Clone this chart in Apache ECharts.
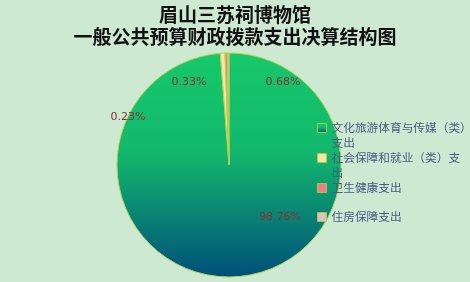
<!DOCTYPE html>
<html><head><meta charset="utf-8">
<script src="https://cdn.jsdelivr.net/npm/echarts@6/dist/echarts.min.js"></script>
<style>html,body{margin:0;padding:0;background:#cde9d1;}#c{width:470px;height:282px;}</style>
</head><body><div id="c"></div>
<script>
const titleLines = ['眉山三苏祠博物馆', '一般公共预算财政拨款支出决算结构图'];
const categories = ['文化旅游体育与传媒（类）支出', '社会保障和就业（类）支出', '卫生健康支出', '住房保障支出'];
const legendLabels = ['文化旅游体育与传媒（类）\n支出', '社会保障和就业（类）支\n出', '卫生健康支出', '住房保障支出'];
const values = [98.76, 0.68, 0.33, 0.23];

const colors = [
  {type:'linear', x:0, y:0, x2:0, y2:1, colorStops:[{offset:0,color:'#17c86a'},{offset:0.45,color:'#12b76d'},{offset:1,color:'#004f7a'}]},
  '#ffe2a8', '#ee8080', '#dcc4c4'
];
const labelPos = [[280,217],[283,82],[189,82],[128,117]];
const legendIconY = [128, 158, 188, 217];

const chart = echarts.init(document.getElementById('c'), null, {renderer:'canvas'});
const legends = categories.map((n, i) => {
  const multi = legendLabels[i].indexOf('\n') >= 0;
  return {
    data: [n],
    orient: 'vertical',
    left: 317,
    top: legendIconY[i] - (multi ? 22.5 : 7.5),
    itemWidth: 9, itemHeight: 9, itemGap: 0,
    padding: 0,
    icon: 'rect',
    selectedMode: false,
    itemStyle: {borderColor: '#a8c840', borderWidth: 1},
    formatter: () => (multi ? '\n' : '') + legendLabels[i],
    textStyle: {fontFamily: 'Noto Sans CJK SC', fontSize: 11.7, color: '#4a5a85', lineHeight: 15}
  };
});
chart.setOption({
  backgroundColor: '#cde9d1',
  title: {
    text: titleLines.join('\n'),
    left: 'center', top: -1,
    textStyle: {fontFamily: 'Noto Sans CJK SC', fontSize: 19, fontWeight: 'bold', color: '#111', lineHeight: 22}
  },
  legend: legends,
  series: [{
    type: 'pie',
    center: [229, 165],
    radius: 112,
    startAngle: 90,
    clockwise: true,
    avoidLabelOverlap: false,
    silent: true,
    animation: false,
    itemStyle: {borderColor: '#b0d250', borderWidth: 1},
    label: {
      show: true, position: 'inside', formatter: '{d}%',
      fontFamily: 'DejaVu Sans', fontSize: 11, color: '#8a3030'
    },
    labelLine: {show: false},
    labelLayout: p => ({x: labelPos[p.dataIndex][0], y: labelPos[p.dataIndex][1], align: 'center', verticalAlign: 'middle'}),
    data: categories.map((n, i) => ({name: n, value: values[i], itemStyle: {color: colors[i]}}))
  }]
});
</script></body></html>
